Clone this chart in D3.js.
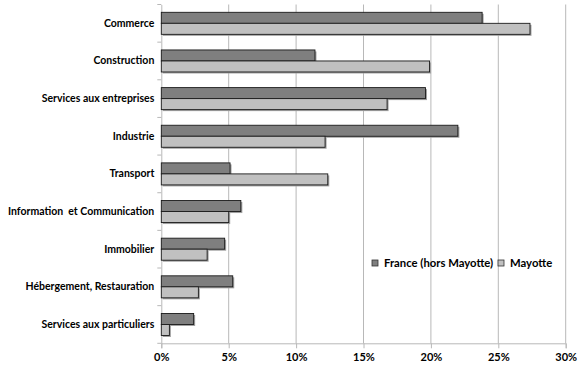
<!DOCTYPE html>
<html>
<head>
<meta charset="utf-8">
<script src="https://cdn.jsdelivr.net/npm/d3@7"></script>
<style>
  body { margin: 0; background: #fff; }
  svg text { font-family: Lato, "Open Sans", sans-serif; font-weight: bold; fill: #000; }
</style>
</head>
<body>
<div id="chart"></div>
<script>
// categories top to bottom
const categories = [
    "Commerce", "Construction", "Services aux entreprises", "Industrie", "Transport",
    "Information\u00a0 et Communication", "Immobilier", "Hébergement, Restauration", "Services aux particuliers"
];
const seriesNames = ["France (hors Mayotte)", "Mayotte"];
// share of companies, %
const franceValues = [23.8, 11.4, 19.6, 22.0, 5.1, 5.9, 4.7, 5.3, 2.4];
const mayotteValues = [27.35, 19.9, 16.75, 12.15, 12.35, 5.0, 3.4, 2.75, 0.6];
const xTicks = [0, 5, 10, 15, 20, 25, 30];

const colors = ["#7f7f7f", "#c0c0c0"];

const W = 585, H = 368;
const plotLeft = 161.3, plotRight = 565.7, plotTop = 4.5, plotBottom = 343.3;

const svg = d3.select("#chart").append("svg")
    .attr("width", W).attr("height", H);

const x = d3.scaleLinear().domain([0, 30]).range([plotLeft, plotRight]);
const y = d3.scaleBand().domain(categories).range([plotTop, plotBottom]).paddingInner(0.415).paddingOuter(0.2075);
const sub = d3.scaleBand().domain(seriesNames).range([0, y.bandwidth()]);

// gridlines
svg.append("g").selectAll("line")
    .data(xTicks.slice(1))
    .join("line")
    .attr("x1", d => x(d)).attr("x2", d => x(d))
    .attr("y1", plotTop).attr("y2", plotBottom)
    .attr("stroke", "#b8b8b8").attr("stroke-width", 1);

// bottom axis
const xAxis = svg.append("g")
    .attr("transform", "translate(0," + plotBottom + ")")
    .call(d3.axisBottom(x).tickValues(xTicks).tickFormat(d => d + "%").tickSize(5).tickPadding(5));
xAxis.select(".domain").attr("stroke", "#b8b8b8");
xAxis.selectAll(".tick line").attr("stroke", "#b8b8b8");
xAxis.selectAll("text").style("font-size", "11px");

// left axis
const yAxis = svg.append("g")
    .attr("transform", "translate(" + plotLeft + ",0)")
    .call(d3.axisLeft(y).tickSize(0).tickPadding(7));
yAxis.select(".domain").attr("stroke", "#b8b8b8");
yAxis.selectAll("text").style("font-size", "10.5px");

// category separator ticks
svg.append("g").selectAll("line")
    .data(d3.range(categories.length + 1))
    .join("line")
    .attr("x1", plotLeft - 4).attr("x2", plotLeft)
    .attr("y1", i => plotTop + i * y.step()).attr("y2", i => plotTop + i * y.step())
    .attr("stroke", "#b8b8b8");

const rows = categories.map((c, i) => ({ cat: c, vals: [franceValues[i], mayotteValues[i]] }));

const barH = sub.bandwidth();
const groups = svg.append("g").selectAll("g")
    .data(rows)
    .join("g")
    .attr("transform", d => "translate(0," + y(d.cat) + ")");

// faint shadow
groups.selectAll("rect.shadow")
    .data(d => d.vals.map((v, j) => ({ v: v, s: seriesNames[j] })))
    .join("rect")
    .attr("class", "shadow")
    .attr("x", x(0) + 1.5)
    .attr("y", d => sub(d.s) + 1.5)
    .attr("width", d => x(d.v) - x(0))
    .attr("height", barH)
    .attr("fill", "#a0a0a0");

groups.selectAll("rect.bar")
    .data(d => d.vals.map((v, j) => ({ v: v, s: seriesNames[j], j: j })))
    .join("rect")
    .attr("class", "bar")
    .attr("x", x(0))
    .attr("y", d => sub(d.s))
    .attr("width", d => x(d.v) - x(0))
    .attr("height", barH)
    .attr("fill", d => colors[d.j])
    .attr("stroke", "#1a1a1a")
    .attr("stroke-width", 0.9);

// legend
const legend = svg.append("g").attr("transform", "translate(372,260)");
const legendX = [0, 126];
const legItems = legend.selectAll("g")
    .data(seriesNames)
    .join("g")
    .attr("transform", (d, i) => "translate(" + legendX[i] + ",0)");
legItems.append("rect")
    .attr("width", 6).attr("height", 6)
    .attr("fill", (d, i) => colors[i])
    .attr("stroke", "#333").attr("stroke-width", 0.8);
legItems.append("text")
    .attr("x", 12).attr("y", 3.5)
    .attr("dy", "0.35em")
    .style("font-size", "11.3px")
    .text(d => d);
</script>
</body>
</html>
